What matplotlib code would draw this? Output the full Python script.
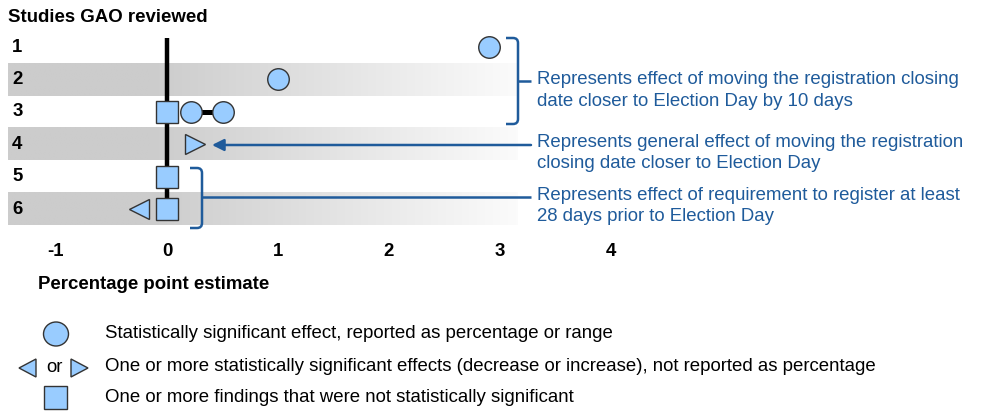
import numpy as np
import matplotlib
matplotlib.use("Agg")
import matplotlib.pyplot as plt
from matplotlib.path import Path
from matplotlib.patches import PathPatch, Ellipse, Rectangle, Polygon

plt.rcParams['font.family'] = ['Liberation Sans', 'DejaVu Sans']

# ---------------- data ----------------
row_labels = ["1", "2", "3", "4", "5", "6"]
rows = [1, 2, 3, 4, 5, 6]
shaded_rows = [2, 4, 6]
circle_rows = [1, 2, 3, 3]
circle_vals = [2.9, 1.0, 0.22, 0.5]
range_rows = [3]
range_lo = [0.22]
range_hi = [0.5]
square_rows = [3, 5, 6]
square_vals = [0, 0, 0]
tri_right_rows = [4]
tri_right_vals = [0.25]
tri_left_rows = [6]
tri_left_vals = [-0.25]
xticks = [-1, 0, 1, 2, 3, 4]
xtick_labels = ["-1", "0", "1", "2", "3", "4"]

title = "Studies GAO reviewed"
xlabel = "Percentage point estimate"
notes = [
    ("Represents effect of moving the registration closing", "date closer to Election Day by 10 days"),
    ("Represents general effect of moving the registration", "closing date closer to Election Day"),
    ("Represents effect of requirement to register at least", "28 days prior to Election Day"),
]
legend_texts = [
    "Statistically significant effect, reported as percentage or range",
    "One or more statistically significant effects (decrease or increase), not reported as percentage",
    "One or more findings that were not statistically significant",
]

# ---------------- styling ----------------
W, H = 982, 411
FILL = "#99ccff"
EDGE = "#333333"
BLUE = "#1f5b9b"
FS = 13.4
PX_PER_UNIT = 111.0
ZERO_PX = 167.0
ROW_PX = 32.4
ROW1_PX = 47.0

fig = plt.figure(figsize=(W / 100, H / 100), dpi=100)

ax_left_px, ax_right_px = 8, 620
ax_top_px, ax_bot_px = 30, 230
ax = fig.add_axes([ax_left_px / W, 1 - ax_bot_px / H,
                   (ax_right_px - ax_left_px) / W, (ax_bot_px - ax_top_px) / H])
ax.set_xlim((ax_left_px - ZERO_PX) / PX_PER_UNIT, (ax_right_px - ZERO_PX) / PX_PER_UNIT)
ax.set_ylim(1 + (ax_bot_px - ROW1_PX) / ROW_PX, 1 + (ax_top_px - ROW1_PX) / ROW_PX)
for s in ax.spines.values():
    s.set_visible(False)
ax.set_yticks([])
ax.set_xticks(xticks)
ax.set_xticklabels(xtick_labels, fontsize=FS, fontweight='bold')
ax.tick_params(axis='x', length=0, pad=9)

# gradient bands
band_x0 = (8 - ZERO_PX) / PX_PER_UNIT
band_x1 = (518 - ZERO_PX) / PX_PER_UNIT
n = 400
xs = np.linspace(0, 1, n)
fade_start = 0.28
t = np.clip((xs - fade_start) / (1 - fade_start), 0, 1)
gray = 0.80 + (0.985 - 0.80) * t
img = np.zeros((1, n, 4))
img[..., 0] = gray
img[..., 1] = gray
img[..., 2] = gray
img[..., 3] = 1
for r in shaded_rows:
    ax.imshow(img, extent=[band_x0, band_x1, r + 0.5, r - 0.5], aspect='auto',
              interpolation='bilinear', zorder=0)

# zero line
ax.plot([0, 0], [1 + (38 - ROW1_PX) / ROW_PX, 6], color='black', lw=3.2, zorder=1,
        solid_capstyle='butt')

# range connectors
for r, lo, hi in zip(range_rows, range_lo, range_hi):
    ax.plot([lo, hi], [r, r], color='black', lw=3.6, zorder=1)

ms = 15.5
ax.plot(circle_vals, circle_rows, linestyle='none', marker='o', ms=ms,
        mfc=FILL, mec=EDGE, mew=1.0, zorder=3)
ax.plot(square_vals, square_rows, linestyle='none', marker='s', ms=ms,
        mfc=FILL, mec=EDGE, mew=1.0, zorder=3)
ax.plot(tri_right_vals, tri_right_rows, linestyle='none', marker='>', ms=14,
        mfc=FILL, mec=EDGE, mew=1.0, zorder=3)
ax.plot(tri_left_vals, tri_left_rows, linestyle='none', marker='<', ms=14,
        mfc=FILL, mec=EDGE, mew=1.0, zorder=3)

# row labels
for r, lab in zip(rows, row_labels):
    ax.text(-1.395, r, lab, fontsize=FS, fontweight='bold', ha='left', va='center')

# ---------------- overlay in pixel coordinates ----------------
ov = fig.add_axes([0, 0, 1, 1], facecolor='none')
ov.set_xlim(0, W)
ov.set_ylim(H, 0)
ov.axis('off')

ov.text(8, 17, title, fontsize=FS, fontweight='bold', ha='left', va='center')
ov.text(38, 284, xlabel, fontsize=FS, fontweight='bold', ha='left', va='center')


def bracket(x_open, x_line, y0, y1, y_tick, x_tick_end, r=5):
    verts = [(x_open, y0), (x_line - r, y0), (x_line, y0), (x_line, y0 + r),
             (x_line, y1 - r), (x_line, y1), (x_line - r, y1), (x_open, y1)]
    codes = [Path.MOVETO, Path.LINETO, Path.CURVE3, Path.CURVE3,
             Path.LINETO, Path.CURVE3, Path.CURVE3, Path.LINETO]
    ov.add_patch(PathPatch(Path(verts, codes), fill=False, edgecolor=BLUE, lw=1.8,
                           capstyle='butt'))
    ov.plot([x_line, x_tick_end], [y_tick, y_tick], color=BLUE, lw=1.8,
            solid_capstyle='butt')


bracket(506, 518, 38, 124, 81, 531)
bracket(190, 202, 168, 228, 197, 531)
ov.annotate("", xy=(212, 145), xytext=(531, 145),
            arrowprops=dict(arrowstyle="-|>,head_length=0.7,head_width=0.35",
                            color=BLUE, lw=1.8, shrinkA=0, shrinkB=0))

note_y = [(79, 101), (142, 163), (195, 216)]
for (l1, l2), (y1, y2) in zip(notes, note_y):
    ov.text(537, y1, l1, fontsize=FS, color=BLUE, ha='left', va='center')
    ov.text(537, y2, l2, fontsize=FS, color=BLUE, ha='left', va='center')

# legend
ov.add_patch(Ellipse((56, 334), 25, 24, facecolor=FILL, edgecolor=EDGE, lw=1.0))
ov.add_patch(Polygon([(19, 368), (36, 359), (36, 377)], closed=True,
                     facecolor=FILL, edgecolor=EDGE, lw=1.0))
ov.text(54, 367, "or", fontsize=FS, ha='center', va='center')
ov.add_patch(Polygon([(88, 368), (71, 359), (71, 377)], closed=True,
                     facecolor=FILL, edgecolor=EDGE, lw=1.0))
ov.add_patch(Rectangle((44, 386), 23, 23, facecolor=FILL, edgecolor=EDGE, lw=1.0))
for txt, y in zip(legend_texts, [333, 366, 397]):
    ov.text(105, y, txt, fontsize=FS, ha='left', va='center')

fig.savefig("out.png", dpi=100)
